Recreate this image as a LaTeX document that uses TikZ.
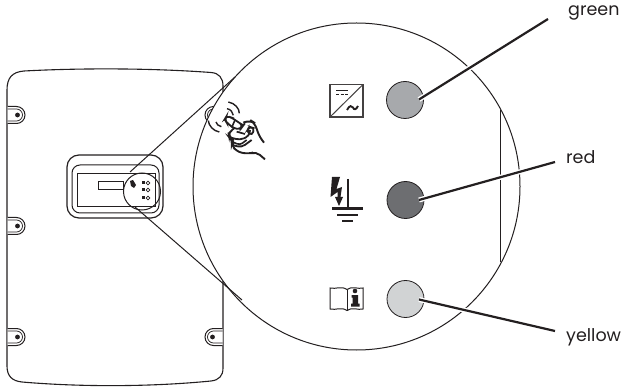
\documentclass[tikz,border=0pt]{standalone}
\usetikzlibrary{calc}
\usepackage{fontspec}
\setmainfont{Poppins}
\definecolor{ink}{HTML}{231F20}
\definecolor{ledgreen}{HTML}{A7A9AC}
\definecolor{ledred}{HTML}{6D6E71}
\definecolor{ledyellow}{HTML}{D1D3D4}
\tikzset{
  thin ink/.style={draw=ink,line width=1pt},
  fine ink/.style={draw=ink,line width=0.7pt},
  leader/.style={draw=ink,line width=2.2pt},
  halo/.style={draw=white,line width=5pt},
  led/.style={circle,draw=ink,line width=0.8pt,minimum size=37pt,inner sep=0pt},
  colourlabel/.style={font=\fontsize{17.5}{20}\selectfont,text=ink,inner sep=0pt,anchor=base west},
  screwshape/.pic={
    \draw[thin ink,fill=white] (0,-8.5) -- (9,-8.5) arc[start angle=-90,end angle=90,radius=8.5] -- (0,8.5);
    \draw[fine ink] (0,-6) -- (9,-6) arc[start angle=-90,end angle=90,radius=6] -- (0,6);
    \fill[ink] (10,0) circle[radius=2.4];
  }
}
\begin{document}
\begin{tikzpicture}[x=1pt,y=-1pt]
\useasboundingbox (0,0) rectangle (626,387);
% housing
\draw[thin ink,line width=1.1pt] (7,90) .. controls (7,78) and (12,72) .. (24,71)
  .. controls (80,68) and (150,68) .. (211,72.5)
  .. controls (219,73) and (223,78) .. (223,86)
  -- (223,368) .. controls (223,376) and (219,380) .. (211,381)
  .. controls (150,387) and (80,387) .. (22,382)
  .. controls (12,381) and (7,376) .. (7,366) -- cycle;
\pic at (7.5,115) {screwshape};
\pic at (7.5,226) {screwshape};
\pic at (7.5,337) {screwshape};
\pic[xscale=-1] at (222.5,337) {screwshape};
\pic[xscale=-1] at (222.5,115) {screwshape};
% display panel
\draw[thin ink,line width=1.2pt,rounded corners=12pt] (67,155) rectangle (163,218);
\draw[thin ink,rounded corners=8pt] (72,165) rectangle (159,213);
\draw[thin ink] (77,174) rectangle (155,207);
\draw[fine ink] (98,181) rectangle (123,189);
\fill[ink] (130,181) -- (133,180) -- (136,185) -- (134,188) -- (131,186) -- cycle;
\foreach \yy in {183,190,198}{
  \fill[ink] (142,\yy-1.5) rectangle (145,\yy+1.5);
  \draw[fine ink] (148,\yy) circle[radius=1.9];
}
\draw[thin ink] (142,191.5) circle[radius=18.5];
% magnifying cone
\coordinate (coneA) at (130,172);
\coordinate (coneB) at (235,77);
\coordinate (coneC) at (135,207);
\coordinate (coneD) at (242,300);
% big circle
\node[circle,draw=ink,fill=white,line width=1pt,minimum size=327pt,inner sep=0pt] (lens) at (356.5,186.5) {};
\draw[thin ink] (coneA) -- (coneB);
\draw[thin ink] (coneC) -- (coneD);
\draw[fine ink] (500,110) -- (500,262);
% LEDs
\node[led,fill=ledgreen] (ledG) at (405,100) {};
\node[led,fill=ledred] (ledR) at (405.5,200) {};
\node[led,fill=ledyellow] (ledY) at (405.5,299) {};
% labels
\node[colourlabel] (lblG) at (568,16) {green};
\node[colourlabel] (lblR) at (566,164) {red};
\node[colourlabel] (lblY) at (566,341) {yellow};
% leaders
\coordinate (endG) at (548,19);
\coordinate (endR) at (555,162);
\coordinate (endY) at (555,331);
\coordinate (startG) at (419,99.5);
\coordinate (startR) at (419,200);
\coordinate (startY) at (419,299.5);
\foreach \a/\b in {startG/endG,startR/endR,startY/endY}{
  \draw[halo] (\a) -- ($(\a)!0.85!(\b)$);
  \draw[leader] (\a) -- (\b);
}
% converter icon
\draw[draw=ink!85,line width=1.1pt] (330,84.5) rectangle (363,117);
\draw[draw=ink!85,line width=1pt] (330,117) -- (363,84.5);
\draw[ink,line width=1pt] (336,91) -- (348,91);
\draw[ink,line width=0.8pt] (336,94.5) -- (339,94.5) (340.5,94.5) -- (343.5,94.5) (345,94.5) -- (348,94.5);
\draw[ink,line width=1.9pt] (347,110) .. controls (349.5,105) and (352,105.5) .. (353,107.5) .. controls (354,110) and (356,110) .. (358,106);
% earth icon
\fill[ink] (332,177) -- (340,177) -- (336.5,189) -- (342,187) -- (340.5,197) -- (343,197) -- (339,206) -- (335,197) -- (337.5,197) -- (337.5,192) -- (330.5,197) -- cycle;
\draw[ink,line width=2.2pt] (348,179) -- (348,208);
\draw[ink,line width=2.4pt] (332,208.5) -- (363,208.5);
\draw[ink,line width=2.4pt] (337,215) -- (358,215);
\draw[ink,line width=2.4pt] (342,221) -- (353,221);
% book icon
\draw[thin ink] (347,289.5) .. controls (341,285.5) and (336,289.5) .. (330,288) -- (330,309) .. controls (336,310.5) and (341,306.5) .. (347,310.5)
  .. controls (352,306.5) and (358,310.5) .. (363,309) -- (363,288) .. controls (358,289.5) and (352,285.5) .. (347,289.5) -- cycle;
\draw[fine ink] (347,289.5) -- (347,310.5);
\fill[ink] (355,291) circle[radius=2.3];
\fill[ink] (351.5,295) -- (358,295) -- (358,303.5) -- (359.5,303.5) -- (359.5,306.5) -- (351,306.5) -- (351,303.5) -- (352.5,303.5) -- (352.5,297.5) -- (351.5,297.5) -- cycle;
% hand icon
\begin{scope}[shift={(190,60)},x=0.3333pt,y=-0.3333pt]
\draw[ink,line width=1.8pt,fill=white,rounded corners=3pt] (150,190) -- (125,173) -- (110,168) -- (104,178) -- (110,188) -- (132,205) -- (150,208) -- (158,195) -- cycle;
\draw[ink,line width=1.6pt] (135,180) -- (125,203);
\draw[ink,line width=1.9pt,rounded corners=6pt] (160,188) -- (180,180) -- (196,190) -- (205,225) -- (222,248);
\draw[ink,line width=1.9pt,rounded corners=5pt] (132,206) -- (115,215) -- (118,232) -- (130,240) -- (125,255) -- (140,275) -- (175,282) -- (198,275) -- (225,298);
\draw[ink,line width=1.8pt,rounded corners=4pt] (118,232) -- (150,240) -- (178,228) -- (180,210);
\draw[ink,line width=1.8pt,rounded corners=4pt] (130,256) -- (155,262) -- (185,240);
\draw[ink,line width=1.6pt,rounded corners=3pt] (125,245) -- (150,255) -- (170,240);
\draw[ink,line width=1.8pt,rounded corners=3pt] (170,215) -- (186,226) -- (193,205) -- (178,200) -- cycle;
\draw[ink,line width=1.7pt] (150,210) -- (165,190) (140,215) -- (165,222);
% waves
\draw[ink,line width=1.4pt] (115,126) .. controls (135,130) and (148,145) .. (148,160);
\draw[ink,line width=1.4pt] (111,146) .. controls (122,148) and (129,157) .. (130,166);
\draw[ink,line width=1.4pt] (55,182) .. controls (56,197) and (70,213) .. (88,216);
\draw[ink,line width=1.4pt] (78,186) .. controls (79,192) and (85,198) .. (94,200);
\end{scope}
\end{tikzpicture}
\end{document}
